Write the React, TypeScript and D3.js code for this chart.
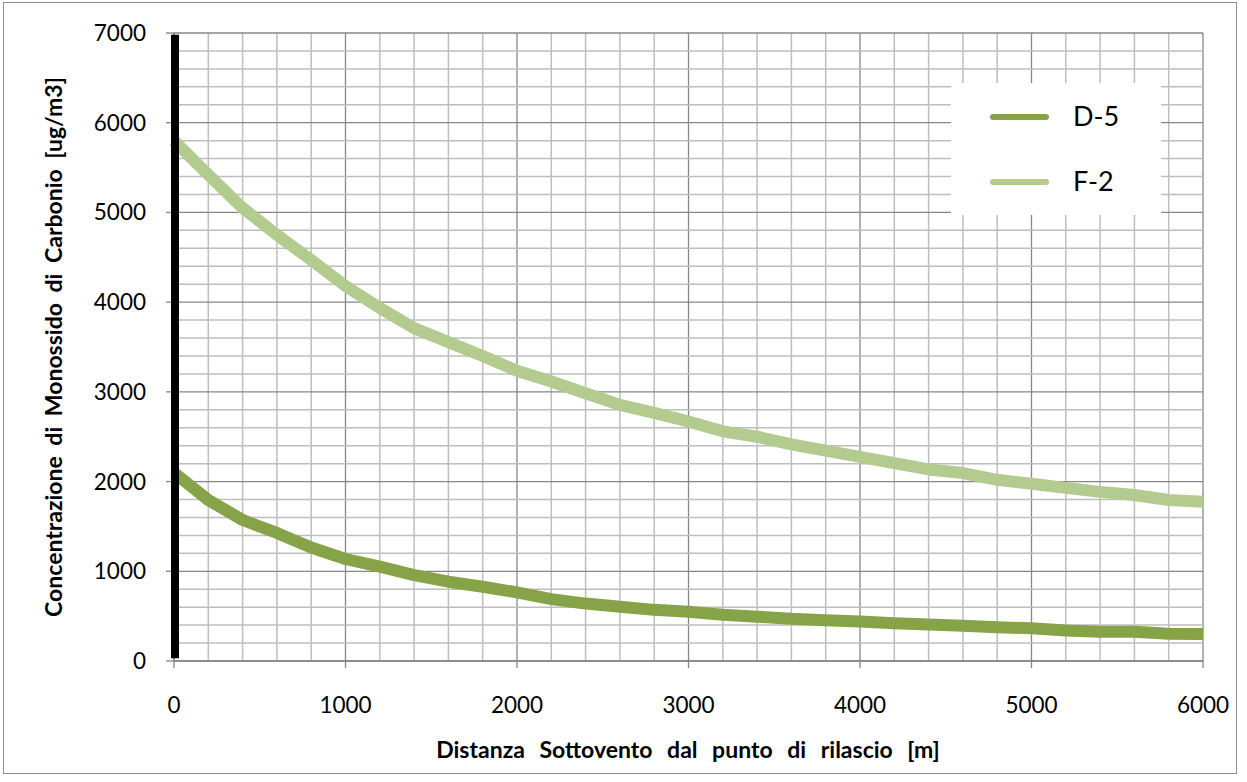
import React from "react";
import * as d3 from "d3";

const distances = [0, 200, 400, 600, 800, 1000, 1200, 1400, 1600, 1800, 2000, 2200, 2400, 2600, 2800, 3000, 3200, 3400, 3600, 3800, 4000, 4200, 4400, 4600, 4800, 5000, 5200, 5400, 5600, 5800, 6000];
const seriesD5 = [2100, 1795, 1572, 1427, 1265, 1137, 1051, 958, 884, 828, 765, 690, 640, 605, 570, 550, 515, 494, 470, 455, 440, 420, 408, 392, 376, 364, 340, 327, 326, 303, 301];
const seriesF2 = [5800, 5420, 5050, 4750, 4470, 4180, 3935, 3710, 3555, 3400, 3235, 3115, 2985, 2855, 2765, 2670, 2560, 2500, 2415, 2345, 2275, 2205, 2135, 2095, 2020, 1975, 1930, 1885, 1850, 1795, 1775];
const seriesNames = ["D-5", "F-2"];
const seriesColors = ["#86A447", "#B4CB90"];
const blackBar = [{ x: 0, y: 30 }, { x: 0, y: 6980 }];
const xTicks = [0, 1000, 2000, 3000, 4000, 5000, 6000];
const yTicks = [0, 1000, 2000, 3000, 4000, 5000, 6000, 7000];
const xTitle = "Distanza Sottovento dal punto di rilascio [m]";
const yTitle = "Concentrazione di Monossido di Carbonio [ug/m3]";

const W = 1247;
const H = 782;
const left = 174, right = 1203, top = 33, bottom = 661;
const font = "Lato, 'Open Sans', sans-serif";

export default function App() {
  const x = d3.scaleLinear().domain([0, 6000]).range([left, right]);
  const y = d3.scaleLinear().domain([0, 7000]).range([bottom, top]);
  const minorX = d3.range(0, 6001, 200);
  const minorY = d3.range(0, 7001, 200);
  const line = d3.line<number>().x((_, i) => x(distances[i])).y((d) => y(d));
  const barLine = d3.line<{ x: number; y: number }>().x((d) => x(d.x) + 1).y((d) => y(d.y));
  const series = [seriesD5, seriesF2];

  return (
    <svg width={W} height={H} style={{ position: "absolute", left: 0, top: 0, background: "#fff" }}>
      <rect x={3.5} y={2.5} width={1233} height={771} fill="#fff" stroke="#8c8c8c" strokeWidth={1} />
      {minorX.map((v) => (
        <line key={"mx" + v} x1={x(v)} x2={x(v)} y1={top} y2={bottom} stroke={v % 1000 === 0 ? "#878787" : "#BEBEBE"} strokeWidth={v % 1000 === 0 ? 1.3 : 1.5} />
      ))}
      {minorY.map((v) => (
        <line key={"my" + v} x1={left} x2={right} y1={y(v)} y2={y(v)} stroke={v % 1000 === 0 ? "#878787" : "#BEBEBE"} strokeWidth={v % 1000 === 0 ? 1.3 : 1.5} />
      ))}
      <line x1={left} x2={right} y1={bottom} y2={bottom} stroke="#868686" strokeWidth={1.3} />
      <line x1={left} x2={left} y1={top} y2={bottom} stroke="#868686" strokeWidth={1.3} />
      {xTicks.map((v) => (
        <line key={"xt" + v} x1={x(v)} x2={x(v)} y1={bottom} y2={bottom + 7} stroke="#868686" strokeWidth={1.3} />
      ))}
      {yTicks.map((v) => (
        <line key={"yt" + v} x1={left - 8} x2={left} y1={y(v)} y2={y(v)} stroke="#868686" strokeWidth={1.3} />
      ))}
      {series.map((s, i) => (
        <path key={"s" + i} d={line(s) || ""} fill="none" stroke={seriesColors[i]} strokeWidth={12} strokeLinejoin="round" />
      ))}
      <path d={barLine(blackBar) || ""} stroke="#000" strokeWidth={8} fill="none" />
      {xTicks.map((v) => (
        <text key={"xl" + v} x={x(v)} y={713} textAnchor="middle" fontFamily={font} fontSize={22.5} fill="#000">{v}</text>
      ))}
      {yTicks.map((v) => (
        <text key={"yl" + v} x={146} y={y(v) + 8} textAnchor="end" fontFamily={font} fontSize={22.5} fill="#000">{v}</text>
      ))}
      <text x={688} y={758} textAnchor="middle" fontFamily={font} fontWeight="bold" fontSize={23} wordSpacing={9} fill="#000">{xTitle}</text>
      <text transform={`translate(62,347) rotate(-90)`} textAnchor="middle" fontFamily={font} fontWeight="bold" fontSize={23} wordSpacing={5} fill="#000">{yTitle}</text>
      <rect x={951} y={83} width={210} height={132} fill="#fff" />
      {seriesNames.map((n, i) => (
        <g key={"lg" + i}>
          <line x1={993} x2={1046} y1={117 + i * 65} y2={117 + i * 65} stroke={seriesColors[i]} strokeWidth={6} strokeLinecap="round" />
          <text x={1073} y={126 + i * 65} fontFamily={font} fontSize={27} fill="#000">{n}</text>
        </g>
      ))}
    </svg>
  );
}
